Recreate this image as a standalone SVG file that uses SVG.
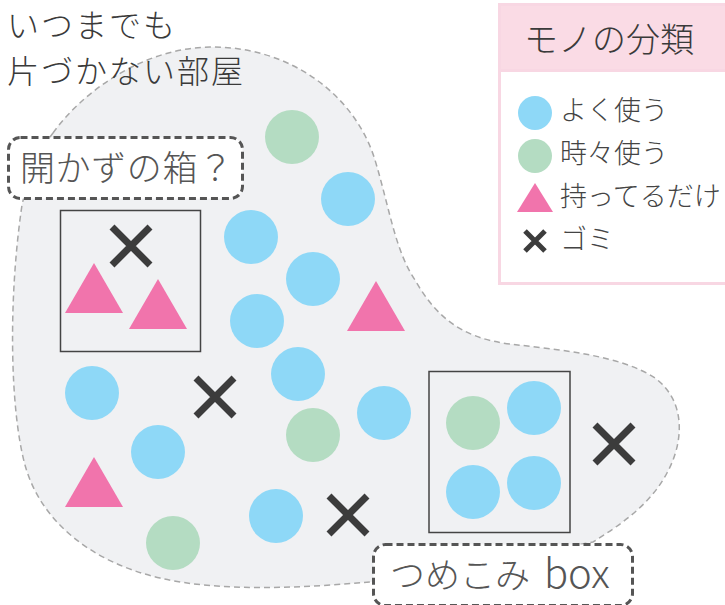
<svg xmlns="http://www.w3.org/2000/svg" width="725" height="605" viewBox="0 0 725 605">
<style>
  text { font-family: "Noto Sans CJK JP", "Noto Sans", sans-serif; font-weight: 300; }
  .title { font-size: 34px; fill: #3a3a3a; }
  .head { font-size: 32px; letter-spacing: 2px; fill: #3a3a3a; }
  .lbl { font-size: 35px; fill: #555; }
  .leg { font-size: 27px; fill: #444; }
  .blue { fill: #8ed8f7; }
  .green { fill: #b4dcc2; }
  .pink { fill: #f174ac; }
  .x { stroke: #3c3c3c; stroke-width: 7; stroke-linecap: butt; fill: none; }
  .box { fill: none; stroke: #444; stroke-width: 1.5; }
  .tag { fill: #fff; stroke: #555; stroke-width: 3; stroke-dasharray: 7 4; }
</style>
<defs>
  <circle id="c" r="27"/>
  <path id="tri" d="M0,-25 L29,25 L-29,25 Z"/>
  <path id="xm" d="M-19,-19 L19,19 M19,-19 L-19,19"/>
</defs>
<rect width="725" height="605" fill="#fff"/>
<g id="room">
  <path d="M53,133 C80,95 140,48 210,47 C290,46 355,95 375,160 C390,210 395,250 415,280 C435,315 460,338 510,344 C560,350 620,355 655,378 C685,400 685,440 667,473 C650,505 620,525 593,542 L370,582 C300,588 220,592 160,578 C90,562 40,520 25,465 C10,410 8,300 22,205 C30,170 40,150 53,133 Z" fill="#f0f1f3" stroke="#a8a8a8" stroke-width="1.5" stroke-dasharray="6 4"/>
</g>
<g id="title">
  <text class="head" x="7" y="37">いつまでも</text>
  <text class="head" x="7" y="83">片づかない部屋</text>
</g>
<g id="legend">
  <rect x="499.5" y="4.5" width="230" height="279" fill="#fff" stroke="#f8d7e3" stroke-width="3"/>
  <rect x="499.5" y="4.5" width="230" height="66" fill="#fadbe5" stroke="#f8d7e3" stroke-width="3"/>
  <text class="title" x="524" y="52">モノの分類</text>
  <circle class="blue" cx="535" cy="113" r="17"/>
  <text class="leg" x="560" y="120">よく使う</text>
  <circle class="green" cx="535" cy="156" r="17"/>
  <text class="leg" x="560" y="163">時々使う</text>
  <path class="pink" d="M535,183 L553,212 L517,212 Z"/>
  <text class="leg" x="560" y="206">持ってるだけ</text>
  <path class="x" style="stroke-width:5" d="M525,231 L545,251 M545,231 L525,251"/>
  <text class="leg" x="560" y="249">ゴミ</text>
</g>
<g id="box1">
  <rect class="box" x="60.5" y="210.5" width="140" height="141"/>
  <use href="#xm" class="x" x="131" y="246"/>
  <use href="#tri" class="pink" x="94" y="288"/>
  <use href="#tri" class="pink" x="158" y="304"/>
</g>
<g id="box2">
  <rect class="box" x="429" y="371.5" width="141" height="161"/>
  <use href="#c" class="green" x="473" y="423"/>
  <use href="#c" class="blue" x="534" y="408"/>
  <use href="#c" class="blue" x="473" y="492"/>
  <use href="#c" class="blue" x="534" y="483"/>
</g>
<g id="items">
  <use href="#c" class="green" x="292" y="137"/>
  <use href="#c" class="blue" x="348" y="199"/>
  <use href="#c" class="blue" x="251" y="237"/>
  <use href="#c" class="blue" x="313" y="279"/>
  <use href="#c" class="blue" x="257" y="321"/>
  <use href="#c" class="blue" x="298" y="374"/>
  <use href="#tri" class="pink" x="376" y="306"/>
  <use href="#c" class="blue" x="92" y="393"/>
  <use href="#xm" class="x" x="215" y="397"/>
  <use href="#c" class="blue" x="158" y="452"/>
  <use href="#tri" class="pink" x="94" y="482"/>
  <use href="#c" class="green" x="173" y="543"/>
  <use href="#c" class="green" x="313" y="435"/>
  <use href="#c" class="blue" x="276" y="516"/>
  <use href="#xm" class="x" x="348" y="515"/>
  <use href="#c" class="blue" x="384" y="413"/>
  <use href="#xm" class="x" x="614" y="444"/>
</g>
<g id="label-unopened">
  <rect class="tag" x="8.5" y="137.5" width="234" height="61" rx="12"/>
  <text class="lbl" x="20" y="181" textLength="213">開かずの箱？</text>
</g>
<g id="label-stuffed">
  <rect class="tag" x="373.5" y="544.5" width="259" height="61" rx="12"/>
  <text class="lbl" x="390" y="588">つめこみ<tspan x="544" style="font-size:40px">box</tspan></text>
</g>
</svg>
